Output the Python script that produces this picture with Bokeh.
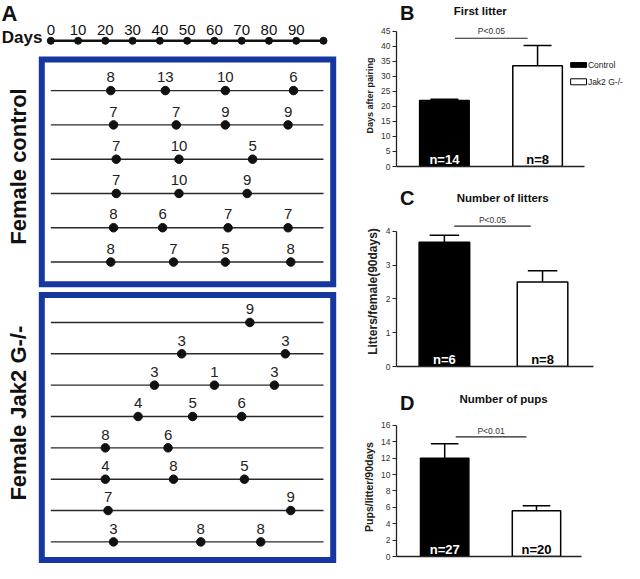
import numpy as np
from bokeh.plotting import figure
from bokeh.layouts import row, column
from bokeh.models import Range1d, ColumnDataSource, FixedTicker
from bokeh.core.properties import value
from bokeh.embed import file_html
from bokeh.resources import INLINE

# ---------------- data ----------------
# Panel A: litters per female (day after pairing) and pups per litter
timeline_ticks = [0, 10, 20, 30, 40, 50, 60, 70, 80, 90]
timeline_end = 100
control_days = [[22, 42, 64, 89], [23, 46, 64, 87], [24, 47, 74],
                [24, 47, 72], [23, 41, 65, 87], [22, 45, 64, 88]]
control_pups = [[8, 13, 10, 6], [7, 7, 9, 9], [7, 10, 5],
                [7, 10, 9], [8, 6, 7, 7], [8, 7, 5, 8]]
jak2_days = [[73], [48, 86], [38, 60, 82], [32, 52, 70],
             [20, 43], [20, 45, 71], [21, 88], [23, 55, 77]]
jak2_pups = [[9], [3, 3], [3, 1, 3], [4, 5, 6],
             [8, 6], [4, 8, 5], [7, 9], [3, 8, 8]]

# Panels B-D: group means, SEM and n
groups = ["Control", "Jak2 G-/-"]
first_litter_mean = [22.0, 33.5]
first_litter_sem = [0.4, 6.8]
first_litter_n = ["n=14", "n=8"]
litters_mean = [3.67, 2.5]
litters_sem = [0.21, 0.33]
litters_n = ["n=6", "n=8"]
pups_mean = [12.0, 5.6]
pups_sem = [1.75, 0.6]
pups_n = ["n=27", "n=20"]

# ---------------- styles ----------------
FONT = "Liberation Sans"
INK = "#111111"
BLUE = "#1737a0"

# ---------------- panel A ----------------
W_A, H_ALL = 360, 563
DAY_PX = 2.727     # screen px per day
DAY0_X = 50.3      # screen x of day 0
pa = figure(width=W_A, height=H_ALL,
            x_range=Range1d(-DAY0_X / DAY_PX, (W_A - DAY0_X) / DAY_PX),
            y_range=Range1d(578, 5),
            x_axis_location=None, y_axis_location=None,
            output_backend="svg", toolbar_location=None, min_border=0, title=None)
pa.grid.visible = False
pa.outline_line_color = None

TL_Y, TL_LABEL_Y = 46, 35
tl_x = timeline_ticks + [timeline_end]
pa.line(x=[0, timeline_end], y=[TL_Y, TL_Y], line_width=2.6, line_color=INK)
pa.scatter(x=tl_x, y=[TL_Y] * len(tl_x), size=7, color=INK)
pa.text(x=timeline_ticks, y=[TL_LABEL_Y] * len(timeline_ticks),
        text=[str(t) for t in timeline_ticks], text_align="center",
        text_baseline="middle", text_font=value(FONT), text_font_size="15px",
        text_color=INK)
pa.text(x=[-18.0], y=[43], text=["Days"], text_align="left", text_baseline="middle",
        text_font=value(FONT), text_font_size="17px", text_font_style="bold",
        text_color=INK)
pa.text(x=[-18.1], y=[5.5], text=["A"], text_align="left", text_baseline="top",
        text_font=value(FONT), text_font_size="22px", text_font_style="bold",
        text_color=INK)

CTRL_Y0, CTRL_DY = 96.7, 34.9
JAK_Y0, JAK_DY = 332.7, 31.9
LABEL_UP = 13.5

def draw_rows(days, pups, y0, dy):
    ys = [y0 + i * dy for i in range(len(days))]
    pa.segment(x0=[0] * len(ys), y0=ys, x1=[timeline_end] * len(ys), y1=ys,
               line_width=1.4, line_color="#2a2a2a")
    px, py, pt = [], [], []
    for d, n, y in zip(days, pups, ys):
        for di, ni in zip(d, n):
            px.append(di); py.append(y); pt.append(str(ni))
    pa.scatter(x=px, y=py, size=8.5, color=INK)
    pa.text(x=px, y=[y - LABEL_UP for y in py], text=pt, text_align="center",
            text_baseline="middle", text_font=value(FONT), text_font_size="15px",
            text_color="#222222")

draw_rows(control_days, control_pups, CTRL_Y0, CTRL_DY)
draw_rows(jak2_days, jak2_pups, JAK_Y0, JAK_DY)

pa.quad(left=[-3.3, -3.3], right=[103.56, 103.56], top=[65, 304.7], bottom=[293.8, 574.5],
        fill_color=None, line_color=BLUE, line_width=6, line_join="miter")
pa.text(x=[-12.0, -12.0], y=[174, 425], text=["Female control", "Female Jak2 G-/-"],
        angle=np.pi / 2, text_align="center", text_baseline="middle",
        text_font=value(FONT), text_font_size="22px", text_font_style="bold",
        text_color=INK)

# ---------------- panels B-D ----------------
W_R = 264

def header(height, letter, letter_xy, title, title_xy):
    h = figure(width=W_R, height=height, x_range=Range1d(0, W_R),
               y_range=Range1d(height, 0), x_axis_location=None, y_axis_location=None,
               output_backend="svg", toolbar_location=None, min_border=0, title=None)
    h.grid.visible = False
    h.outline_line_color = None
    h.text(x=[letter_xy[0]], y=[letter_xy[1]], text=[letter], text_align="left",
           text_baseline="middle", text_font=value(FONT), text_font_size="20px",
           text_font_style="bold", text_color=INK)
    h.text(x=[title_xy[0]], y=[title_xy[1]], text=[title], text_align="center",
           text_baseline="middle", text_font=value(FONT), text_font_size="11.5px",
           text_font_style="bold", text_color=INK)
    return h

def bar_panel(height, left, bottom, xr, yr, axis_end, ytop, ticks, bar_w,
              means, sems, ns, ylabel, ylabel_size, p_text, p_x0, p_x1, p_y, p_ty):
    p = figure(width=W_R, height=height, x_range=Range1d(*xr), y_range=Range1d(*yr),
               output_backend="svg", toolbar_location=None, title=None,
               min_border_left=left, min_border_right=0, min_border_top=0,
               min_border_bottom=bottom)
    p.grid.visible = False
    p.outline_line_color = None
    xs = [1, 2]
    err = [m + s for m, s in zip(means, sems)]
    src = ColumnDataSource(dict(x=xs, top=means, err=err, n=ns,
                                fill=["#000000", "#ffffff"],
                                ncol=["#ffffff", "#000000"]))
    p.vbar(x="x", top="top", bottom=0, width=bar_w, fill_color="fill",
           line_color="#000000", line_width=1.5, source=src)
    p.segment(x0="x", y0="top", x1="x", y1="err", line_color="#000000",
              line_width=1.5, source=src)
    cap = 0.15
    p.segment(x0=[x - cap for x in xs], y0=err, x1=[x + cap for x in xs], y1=err,
              line_color="#000000", line_width=1.5)
    p.text(x="x", y=0, text="n", text_color="ncol", text_align="center",
           text_baseline="bottom", text_font=value(FONT), text_font_size="13px",
           text_font_style="bold", source=src)
    # significance bracket
    p.segment(x0=[p_x0], y0=[p_y], x1=[p_x1], y1=[p_y], line_color="#222222", line_width=1.2)
    p.text(x=[(p_x0 + p_x1) / 2], y=[p_ty], text=[p_text], text_align="center",
           text_baseline="bottom", text_font=value(FONT), text_font_size="8.5px",
           text_color="#333333")
    # axes
    ya = p.yaxis[0]
    ya.ticker = FixedTicker(ticks=ticks)
    ya.bounds = (0, ytop)
    ya.major_tick_out = 4
    ya.major_tick_in = 0
    ya.minor_tick_out = 0
    ya.minor_tick_in = 0
    ya.axis_line_width = 1.3
    ya.axis_line_color = "#222222"
    ya.major_tick_line_color = "#222222"
    ya.major_label_text_font = FONT
    ya.major_label_text_font_size = "8.5px"
    ya.major_label_text_color = "#333333"
    ya.major_label_standoff = 2
    ya.axis_label = ylabel
    ya.axis_label_text_font = FONT
    ya.axis_label_text_font_style = "bold"
    ya.axis_label_text_font_size = ylabel_size
    ya.axis_label_text_color = "#222222"
    ya.axis_label_standoff = 3
    xa = p.xaxis[0]
    xa.ticker = FixedTicker(ticks=[])
    xa.bounds = (xr[0], axis_end)
    xa.major_tick_out = 0
    xa.major_tick_in = 0
    xa.minor_tick_out = 0
    xa.minor_tick_in = 0
    xa.major_label_text_font_size = "0px"
    xa.axis_line_width = 1.3
    xa.axis_line_color = "#222222"
    return p

hb = header(24, "B", (4, 12), "First litter", (97, 10))
pb = bar_panel(155, 34, 13, (0.486, 2.933), (0, 47.27), 2.507, 45,
               list(range(0, 50, 5)), 0.532, first_litter_mean, first_litter_sem,
               first_litter_n, "Days after pairing", "9px", "P<0.05", 1.114, 1.894,
               42.7, 43.3)
# legend for panel B
pb.rect(x=[2.44, 2.44], y=[33.8, 28.2], width=0.17, height=[1.6, 2.0],
        fill_color=["#000000", "#ffffff"], line_color="#000000", line_width=1)
pb.text(x=[2.54, 2.54], y=[33.8, 28.2], text=groups, text_align="left",
        text_baseline="middle", text_font=value(FONT), text_font_size="8.5px",
        text_color="#222222")

hc = header(37, "C", (4, 18), "Number of litters", (123, 18.5))
pc = bar_panel(159, 34, 9, (0.512, 2.835), (0, 4.435), 2.515, 4,
               [0, 1, 2, 3, 4], 0.515, litters_mean, litters_sem, litters_n,
               "Litters/female(90days)", "12px", "P<0.05", 1.10, 1.88, 4.15, 4.19)

hd = header(42, "D", (4, 27.5), "Number of pups", (124, 23.5))
pd_ = bar_panel(146, 33, 7, (0.475, 2.959), (0, 16.97), 2.489, 16,
                list(range(0, 18, 2)), 0.527, pups_mean, pups_sem, pups_n,
                "Pups/litter/90days", "10.5px", "P<0.01", 1.12, 1.89, 14.6, 14.72)

layout = row(pa, column(hb, pb, hc, pc, hd, pd_, spacing=0), spacing=0)
open("out.html", "w").write(file_html(layout, INLINE))
